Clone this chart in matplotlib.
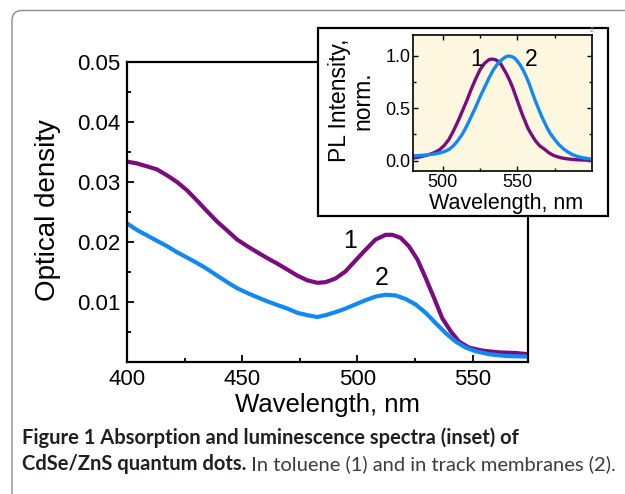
import matplotlib.pyplot as plt
from matplotlib.patches import Rectangle, FancyBboxPatch
from matplotlib.ticker import FixedLocator, MultipleLocator

plt.rcParams['font.family'] = ['Liberation Sans', 'DejaVu Sans']

# absorption spectra (main plot)
abs_wl_1 = [400, 404.3, 408.7, 413, 417.4, 421.7, 426.1, 430.4, 434.8, 439.1, 443.5, 447.8,
            452.2, 456.5, 460.9, 465.2, 469.6, 473.9, 478.3, 482.6, 486.1, 490.4, 494.8,
            499.1, 503.5, 507.8, 512.2, 515.1, 518.7, 522.3, 526, 529.6, 533.2, 536.8,
            540.5, 544.1, 548.4, 554.2, 561.5, 568.7, 574]
abs_od_1 = [0.0334, 0.0331, 0.0326, 0.0321, 0.0311, 0.0300, 0.0286, 0.0269, 0.0251, 0.0234,
            0.0219, 0.0204, 0.0193, 0.0183, 0.0173, 0.0164, 0.0154, 0.0144, 0.0136, 0.0132,
            0.0133, 0.0139, 0.0151, 0.0169, 0.0187, 0.0204, 0.0212, 0.0212, 0.0207, 0.0193,
            0.0171, 0.0140, 0.0107, 0.0073, 0.0051, 0.0034, 0.0024, 0.0019, 0.0016, 0.0015,
            0.0013]
abs_wl_2 = [400, 404.3, 408.7, 413, 417.4, 421.7, 426.1, 430.4, 434.8, 439.1, 443.5, 447.8,
            452.2, 456.5, 460.9, 465.2, 469.6, 473.9, 478.3, 482.6, 486.1, 490.4, 494.8,
            499.1, 503.5, 507.8, 512.2, 516.5, 520.9, 525.2, 529.6, 533.9, 538.3, 542.6,
            547, 551.3, 557.1, 564.4, 574]
abs_od_2 = [0.0231, 0.0220, 0.0211, 0.0202, 0.0193, 0.0183, 0.0174, 0.0165, 0.0155, 0.0144,
            0.0133, 0.0123, 0.0115, 0.0108, 0.0101, 0.0095, 0.0089, 0.0082, 0.0078, 0.0075,
            0.0078, 0.0083, 0.0089, 0.0096, 0.0103, 0.0109, 0.0112, 0.0111, 0.0105, 0.0096,
            0.0082, 0.0065, 0.0048, 0.0034, 0.0024, 0.0018, 0.0013, 0.0010, 0.0009]

# luminescence spectra (inset)
pl_wl_1 = [480, 483, 486, 489, 492, 495, 498, 501, 504, 507, 510, 513, 516, 519, 522, 525,
           528, 531, 533, 535, 537, 539, 541, 543, 545, 547, 549, 551, 553, 555, 557, 559,
           562, 565, 568, 571, 574, 577, 580, 584, 588, 593, 600]
pl_int_1 = [0.023, 0.03, 0.04, 0.05, 0.063, 0.08, 0.105, 0.145, 0.2, 0.28, 0.37, 0.47, 0.57,
            0.68, 0.78, 0.87, 0.93, 0.965, 0.97, 0.965, 0.95, 0.92, 0.87, 0.82, 0.76, 0.69,
            0.61, 0.53, 0.45, 0.38, 0.31, 0.26, 0.19, 0.14, 0.11, 0.075, 0.05, 0.035, 0.024,
            0.015, 0.009, 0.005, 0.003]
pl_wl_2 = [480, 484, 488, 492, 495, 498, 501, 504, 507, 510, 513, 516, 519, 522, 525, 528,
           531, 534, 537, 540, 542, 544, 546, 548, 550, 552, 554, 556, 558, 560, 562, 564,
           566, 568, 570, 572, 575, 578, 581, 584, 587, 590, 594, 600]
pl_int_2 = [0.045, 0.048, 0.052, 0.058, 0.064, 0.073, 0.085, 0.105, 0.14, 0.19, 0.25, 0.33,
            0.42, 0.51, 0.61, 0.7, 0.79, 0.87, 0.93, 0.97, 0.99, 1.0, 0.995, 0.98, 0.95, 0.91,
            0.86, 0.8, 0.73, 0.65, 0.57, 0.5, 0.43, 0.37, 0.31, 0.26, 0.2, 0.15, 0.11, 0.08,
            0.056, 0.04, 0.026, 0.013]

main_yticks = [0.01, 0.02, 0.03, 0.04, 0.05]
main_ylabels = ['0.01', '0.02', '0.03', '0.04', '0.05']
inset_yticks = [0.0, 0.5, 1.0]
inset_ylabels = ['0.0', '0.5', '1.0']

purple = '#7b0c7e'
blue = '#1089f2'

W, H = 625, 494
fig = plt.figure(figsize=(W / 100, H / 100), dpi=100)

# rounded page frame (only top/left visible)
frame = FancyBboxPatch((0.12, -1.0), 7.0, 4.835 + 1.0,
                       boxstyle='round,pad=0,rounding_size=0.1',
                       transform=fig.dpi_scale_trans, fc='none', ec='#8a8a8a', lw=1.0)
fig.add_artist(frame)

# main axes
ax = fig.add_axes([127 / W, 132 / H, 401 / W, 300 / H])
ax.plot(abs_wl_1, abs_od_1, color=purple, lw=3, solid_joinstyle='round')
ax.plot(abs_wl_2, abs_od_2, color=blue, lw=3, solid_joinstyle='round')
ax.set_xlim(400, 574)
ax.set_ylim(0, 0.05)
ax.xaxis.set_major_locator(MultipleLocator(50))
ax.xaxis.set_minor_locator(MultipleLocator(25))
ax.set_yticks(main_yticks, main_ylabels)
ax.yaxis.set_minor_locator(FixedLocator([0.005, 0.015, 0.025, 0.035, 0.045]))
for s in ax.spines.values():
    s.set_linewidth(1.6)
ax.tick_params(which='both', direction='in', top=False, right=False, width=1.3,
               labelsize=16)
ax.tick_params(which='major', length=5, pad=5)
ax.tick_params(which='minor', length=3)
ax.set_xlabel('Wavelength, nm', fontsize=18.5, va='center')
ax.xaxis.set_label_coords(0.5, -0.143)
ax.set_ylabel('Optical density', fontsize=20, va='center')
ax.yaxis.set_label_coords(-0.197, 0.507)
ax.text(497, 0.0201, '1', fontsize=18, ha='center', va='center')
ax.text(510.4, 0.0140, '2', fontsize=18, ha='center', va='center')

# inset box
fig.add_artist(Rectangle((318 / W, (H - 216) / H), 290 / W, 188 / H,
                         transform=fig.transFigure, fc='white', ec='black',
                         lw=1.6, zorder=1))

ins = fig.add_axes([413 / W, (H - 171) / H, 179 / W, 136 / H], zorder=2)
ins.set_facecolor('#fdf7df')
ins.plot(pl_wl_1, pl_int_1, color=purple, lw=2.4, solid_joinstyle='round')
ins.plot(pl_wl_2, pl_int_2, color=blue, lw=2.4, solid_joinstyle='round')
ins.set_xlim(480, 600)
ins.set_ylim(-0.1, 1.2)
ins.set_xticks([500, 550])
ins.xaxis.set_minor_locator(FixedLocator([525, 575]))
ins.set_yticks(inset_yticks, inset_ylabels)
ins.yaxis.set_minor_locator(FixedLocator([0.25, 0.75]))
for s in ins.spines.values():
    s.set_linewidth(1.2)
ins.tick_params(which='both', direction='in', top=True, right=True, width=1.0,
                labelsize=13)
ins.tick_params(which='major', length=3.5, pad=2)
ins.tick_params(which='minor', length=2)
ins.set_xlabel('Wavelength, nm', fontsize=15.5, va='center')
ins.xaxis.set_label_coords(0.52, -0.24)
ins.set_ylabel('PL Intensity,\nnorm.', fontsize=16.5, va='center', linespacing=1.05)
ins.yaxis.set_label_coords(-0.346, 0.52)
ins.text(522.5, 0.97, '1', fontsize=16.5, ha='center', va='center')
ins.text(559, 0.97, '2', fontsize=16.5, ha='center', va='center')
fig.text(592 / W, (H - 30) / H, '2', fontsize=5, color='#888888', ha='center', va='center')

# caption
cap_font = ['Lato', 'DejaVu Sans']
bold_col = '#231f20'
reg_col = '#3c3c3c'
x0 = 22 / W
target = 592
size = 12
t1 = fig.text(x0, (H - 444) / H, 'Figure 1 Absorption and luminescence spectra (inset) of',
              family=cap_font, weight='bold', color=bold_col, fontsize=size)
t2 = fig.text(x0, (H - 470) / H, 'CdSe/ZnS quantum dots.', family=cap_font,
              weight='bold', color=bold_col, fontsize=size)
t3 = fig.text(x0, (H - 470) / H, ' In toluene (1) and in track membranes (2).',
              family=cap_font, color=reg_col, fontsize=size)
r = fig.canvas.get_renderer()
w = t2.get_window_extent(r).width + t3.get_window_extent(r).width
size = size * target / w
for t in (t1, t2, t3):
    t.set_fontsize(size)
w2 = t2.get_window_extent(r).width
t3.set_x(x0 + w2 / W)

fig.savefig('out.png', dpi=100)
